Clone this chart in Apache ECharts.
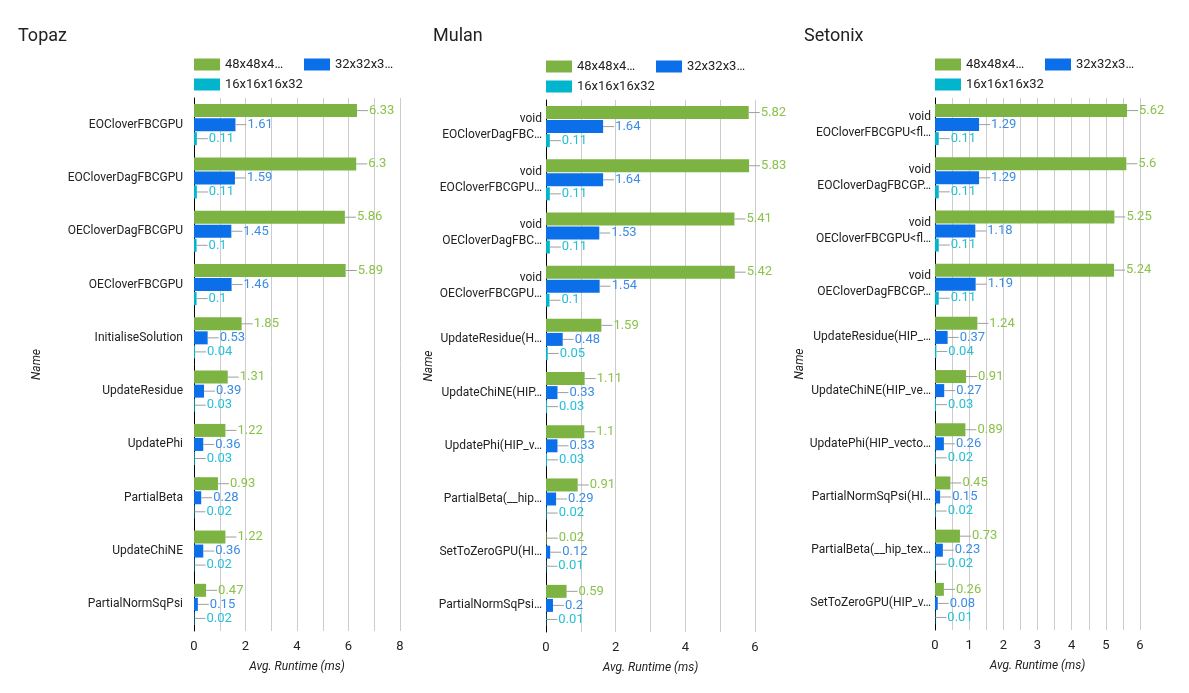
<!DOCTYPE html>
<html>
<head>
<meta charset="utf-8">
<script src="https://cdn.jsdelivr.net/npm/echarts@6/dist/echarts.min.js"></script>
<style>html,body{margin:0;padding:0;background:#fff}#c{width:1189px;height:693px}</style>
</head>
<body>
<div id="c"></div>
<script>
const seriesNames = ['48x48x48x48', '32x32x32x32', '16x16x16x32'];

const topazCategories = ['EOCloverFBCGPU', 'EOCloverDagFBCGPU', 'OECloverDagFBCGPU', 'OECloverFBCGPU', 'InitialiseSolution', 'UpdateResidue', 'UpdatePhi', 'PartialBeta', 'UpdateChiNE', 'PartialNormSqPsi'];
const topaz48 = [6.33, 6.3, 5.86, 5.89, 1.85, 1.31, 1.22, 0.93, 1.22, 0.47];
const topaz32 = [1.61, 1.59, 1.45, 1.46, 0.53, 0.39, 0.36, 0.28, 0.36, 0.15];
const topaz16 = [0.11, 0.11, 0.1, 0.1, 0.04, 0.03, 0.03, 0.02, 0.02, 0.02];

const mulanCategories = ['void\nEOCloverDagFBC…', 'void\nEOCloverFBCGPU…', 'void\nOECloverDagFBC…', 'void\nOECloverFBCGPU…', 'UpdateResidue(H…', 'UpdateChiNE(HIP…', 'UpdatePhi(HIP_v…', 'PartialBeta(__hip…', 'SetToZeroGPU(HI…', 'PartialNormSqPsi…'];
const mulan48 = [5.82, 5.83, 5.41, 5.42, 1.59, 1.11, 1.1, 0.91, 0.02, 0.59];
const mulan32 = [1.64, 1.64, 1.53, 1.54, 0.48, 0.33, 0.33, 0.29, 0.12, 0.2];
const mulan16 = [0.11, 0.11, 0.11, 0.1, 0.05, 0.03, 0.03, 0.02, 0.01, 0.01];

const setonixCategories = ['void\nEOCloverFBCGPU<fl…', 'void\nEOCloverDagFBCGP…', 'void\nOECloverFBCGPU<fl…', 'void\nOECloverDagFBCGP…', 'UpdateResidue(HIP_…', 'UpdateChiNE(HIP_ve…', 'UpdatePhi(HIP_vecto…', 'PartialNormSqPsi(HI…', 'PartialBeta(__hip_tex…', 'SetToZeroGPU(HIP_v…'];
const setonix48 = [5.62, 5.6, 5.25, 5.24, 1.24, 0.91, 0.89, 0.45, 0.73, 0.26];
const setonix32 = [1.29, 1.29, 1.18, 1.19, 0.37, 0.27, 0.26, 0.15, 0.23, 0.08];
const setonix16 = [0.11, 0.11, 0.11, 0.11, 0.04, 0.03, 0.02, 0.02, 0.02, 0.01];

const barColors = ['#7cb342', '#0a6fe8', '#00b5cc'];
const labelColors = ['#8bc34a', '#3b8ce6', '#26c0d6'];
const txt = '#222';

const panels = [
  {title: 'Topaz', titleLeft: 18, grid: {left: 194, top: 98, width: 206, height: 533}, max: 8, interval: 2, minor: 2, catMargin: 11, nameGap: 151, cats: topazCategories, data: [topaz48, topaz32, topaz16], legendTop: 58},
  {title: 'Mulan', titleLeft: 433, grid: {left: 546, top: 100, width: 209, height: 532}, max: 6, interval: 2, minor: 2, catMargin: 4, nameGap: 107, cats: mulanCategories, data: [mulan48, mulan32, mulan16], legendTop: 60},
  {title: 'Setonix', titleLeft: 804, grid: {left: 935, top: 98, width: 205, height: 532}, max: 6, interval: 1, minor: 2, catMargin: 4, nameGap: 124, cats: setonixCategories, data: [setonix48, setonix32, setonix16], legendTop: 58}
];

const option = {
  animation: false,
  textStyle: {fontFamily: 'Roboto'},
  title: [], legend: [], grid: [], xAxis: [], yAxis: [], series: []
};

const legendFormatter = n => n === seriesNames[2] ? n : n.slice(0, 7) + '…';

panels.forEach((p, i) => {
  option.title.push({text: p.title, left: p.titleLeft, top: 27, padding: 0,
    textStyle: {fontSize: 18, fontWeight: 'normal', color: txt, fontFamily: 'Roboto'}});
  const lx = p.grid.left;
  const legendPos = [[lx, p.legendTop], [lx + 110, p.legendTop], [lx, p.legendTop + 20]];
  seriesNames.forEach((n, k) => {
    option.legend.push({data: [n], left: legendPos[k][0], top: legendPos[k][1], padding: 0,
      itemWidth: 26, itemHeight: 12, icon: 'rect', formatter: legendFormatter,
      textStyle: {fontSize: 13, color: txt, fontFamily: 'Roboto'}});
  });
  option.grid.push(Object.assign({containLabel: false}, p.grid));
  option.xAxis.push({
    type: 'value', gridIndex: i, min: 0, max: p.max, interval: p.interval,
    name: 'Avg. Runtime (ms)', nameLocation: 'middle', nameGap: 30,
    nameTextStyle: {fontStyle: 'italic', fontSize: 12, color: txt},
    axisLine: {show: false}, axisTick: {show: false},
    axisLabel: {fontSize: 13, color: txt, margin: 9},
    splitLine: {show: true, lineStyle: {color: '#cccccc', width: 1}},
    minorTick: {show: false, splitNumber: p.minor},
    minorSplitLine: {show: true, lineStyle: {color: '#cccccc', width: 1}}
  });
  option.yAxis.push({
    type: 'category', gridIndex: i, data: p.cats, inverse: true,
    name: 'Name', nameLocation: 'middle', nameGap: p.nameGap,
    nameTextStyle: {fontStyle: 'italic', fontSize: 12, color: txt},
    axisLine: {show: true, lineStyle: {color: '#000', width: 1}},
    axisTick: {show: false},
    axisLabel: {fontSize: 12, color: txt, margin: p.catMargin, lineHeight: 16},
    splitLine: {show: false}
  });
  p.data.forEach((vals, k) => {
    option.series.push({
      type: 'bar', name: seriesNames[k], xAxisIndex: i, yAxisIndex: i,
      data: vals, barWidth: 13, barGap: '8%',
      itemStyle: {color: barColors[k]},
      label: {
        show: true, position: 'right', distance: 0,
        formatter: prm => '{l|}{v|' + prm.value + '}',
        rich: {
          l: {width: 11, height: 1, backgroundColor: '#9e9e9e'},
          v: {color: labelColors[k], fontSize: 13, fontFamily: 'Roboto', padding: [0, 0, 0, 1]}
        }
      }
    });
  });
});

const chart = echarts.init(document.getElementById('c'), null, {renderer: 'canvas'});
chart.setOption(option);
</script>
</body>
</html>
